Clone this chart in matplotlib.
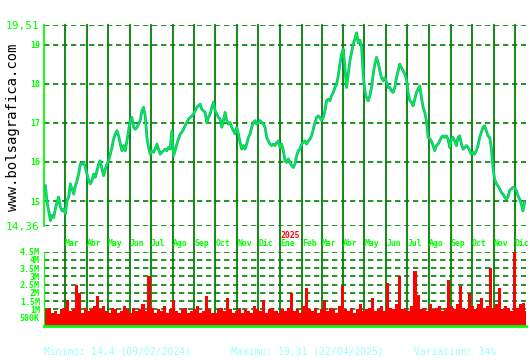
import matplotlib
matplotlib.use("Agg")
import matplotlib.pyplot as plt
import pandas as pd

# ---------------- data ----------------
close = [
    15.39, 14.97, 14.75, 14.50, 14.63, 14.58, 14.80, 14.97, 15.10, 14.84, 14.75, 14.80, 14.67,
    15.01, 15.10, 15.44, 15.31, 15.18, 15.39, 15.52, 15.69, 15.95, 15.95, 15.99, 15.86,
    15.69, 15.52, 15.44, 15.52, 15.69, 15.61, 15.78, 15.95, 16.03, 15.82, 15.65, 15.82, 15.95,
    16.03, 16.20, 16.37, 16.59, 16.72, 16.80, 16.67, 16.46, 16.29, 16.42, 16.29, 16.54, 16.80,
    17.06, 17.14, 16.89, 16.84, 16.89, 16.97, 17.06, 17.31, 17.40, 17.18, 16.63, 16.37,
    16.20, 16.29, 16.25, 16.33, 16.46, 16.33, 16.20, 16.25, 16.29, 16.33, 16.29, 16.37, 16.33, 16.80,
    16.16, 16.29, 16.46, 16.59, 16.72, 16.76, 16.84, 16.93, 17.01, 17.10, 17.14, 17.18, 17.23,
    17.31, 17.40, 17.44, 17.48, 17.35, 17.31, 17.27, 17.01, 17.14, 17.23, 17.40, 17.53,
    17.31, 17.23, 17.14, 17.10, 16.89, 17.06, 17.27, 17.06, 16.97, 17.01, 16.89, 16.80, 16.72, 16.89,
    16.72, 16.50, 16.33, 16.42, 16.33, 16.46, 16.63, 16.72, 16.89, 17.01, 17.06, 16.97, 17.01,
    17.06, 17.01, 16.97, 16.89, 16.63, 16.54, 16.46, 16.42, 16.46, 16.42, 16.50, 16.54,
    16.37, 16.46, 16.29, 16.03, 15.99, 16.08, 15.99, 15.91, 15.86, 15.95, 16.16, 16.29, 16.33,
    16.46, 16.50, 16.54, 16.46, 16.54, 16.59, 16.67, 16.84, 17.01, 17.14, 17.18, 17.14,
    17.06, 17.14, 17.31, 17.57, 17.61, 17.57, 17.70, 17.78, 17.91, 17.99, 18.21, 18.51,
    18.76, 18.89, 18.42, 17.91, 18.25, 18.59, 18.80, 19.02, 19.15, 19.31, 19.05, 19.12, 18.97, 18.25,
    17.82, 17.65, 17.57, 17.70, 17.91, 18.25, 18.51, 18.68, 18.55, 18.34, 18.16, 18.08,
    18.16, 18.04, 17.91, 17.91, 17.82, 17.78, 17.91, 18.16, 18.34, 18.51, 18.42, 18.34, 18.25,
    18.12, 17.78, 17.57, 17.53, 17.44, 17.61, 17.78, 17.87, 17.95, 17.65, 17.40, 17.27, 17.06,
    16.63, 16.59, 16.54, 16.42, 16.29, 16.42, 16.46, 16.54, 16.63, 16.67, 16.63, 16.67, 16.59,
    16.37, 16.59, 16.63, 16.54, 16.42, 16.63, 16.67, 16.46, 16.33, 16.37, 16.42, 16.37, 16.29,
    16.20, 16.25, 16.20, 16.29, 16.42, 16.63, 16.76, 16.89, 16.93, 16.80, 16.67, 16.63, 16.37, 15.86,
    15.56, 15.44, 15.39, 15.31, 15.22, 15.18, 15.10, 15.05, 15.10, 15.27, 15.31, 15.35,
    15.35, 15.27, 15.14, 15.05, 14.93, 14.75, 14.97,
]
price_start, price_end = "2024-02-02", "2025-12-15"

volume_m = [
    1.0, 1.1, 0.8, 0.9, 0.7, 1.0, 1.1, 1.6, 0.9, 1.0, 2.5, 2.0, 0.8, 1.1, 0.9, 1.0, 1.2, 1.8, 1.0, 1.2,
    0.9, 0.8, 1.1, 1.0, 0.8, 0.9, 1.2, 1.0, 0.8, 1.1, 0.9, 1.0, 1.3, 0.9, 3.0, 1.1, 0.8, 1.0, 0.9, 1.2,
    0.8, 1.0, 1.6, 0.9, 0.8, 1.0, 1.1, 0.8, 0.9, 1.0, 1.2, 0.8, 0.9, 1.8, 1.0, 0.8, 0.8, 1.0, 1.1, 0.9,
    1.7, 1.0, 0.8, 0.9, 1.1, 0.8, 1.0, 0.9, 0.8, 1.2, 1.0, 0.9, 1.6, 0.8, 1.0, 1.1, 0.9, 0.8, 1.0, 0.9,
    1.1, 2.0, 0.9, 1.0, 0.8, 1.2, 2.3, 1.0, 0.9, 1.1, 0.8, 1.0, 1.6, 0.9, 1.1, 1.0, 0.8, 1.2, 2.4, 1.0,
    0.9, 1.1, 0.8, 1.0, 1.3, 0.9, 1.0, 1.1, 1.7, 0.9, 1.0, 1.2, 0.9, 2.6, 1.1, 1.0, 1.3, 3.0, 1.0, 1.1,
    0.9, 1.2, 3.3, 1.9, 1.0, 1.1, 0.9, 1.3, 1.0, 1.1, 1.2, 0.9, 1.1, 2.8, 1.2, 1.0, 1.3, 2.4, 1.1, 1.0,
    2.0, 1.2, 1.0, 1.3, 1.7, 1.1, 1.2, 3.5, 1.1, 1.3, 2.3, 1.0, 1.2, 1.1, 0.9, 4.5, 1.1, 1.3, 1.4, 0.9,
]
vol_start, vol_end = "2024-02-01", "2025-12-16"

month_labels = ["Mar", "Abr", "May", "Jun", "Jul", "Ago", "Sep", "Oct", "Nov", "Dic",
                "Ene", "Feb", "Mar", "Abr", "May", "Jun", "Jul", "Ago", "Sep", "Oct", "Nov", "Dic"]
month_start, year_label = "2024-03-01", "2025"

price_ticks = [15, 16, 17, 18, 19]
price_min, price_max = 14.36, 19.51
vol_ticks = [0.5, 1, 1.5, 2, 2.5, 3, 3.5, 4, 4.5]
vol_tick_labels = ["500K", "1M", "1.5M", "2M", "2.5M", "3M", "3.5M", "4M", "4.5M"]

stats = ["Minimo: 14,4 (09/02/2024)", "Maximo: 19,31 (22/04/2025)", "Variación: 34%"]
watermark = "www.bolsagrafica.com"

# ---------------- style ----------------
LIME = "#00ff00"
DKGREEN = "#008000"
CYAN = "#10a8bc"
MONO = "DejaVu Sans Mono"

W, H = 530, 360
fig = plt.figure(figsize=(W / 100, H / 100), dpi=100, facecolor="white")

def frac(x0, y0, x1, y1):
    return [x0 / W, 1 - y1 / H, (x1 - x0) / W, (y1 - y0) / H]

ax = fig.add_axes(frac(44, 25, 526, 226))
axv = fig.add_axes(frac(44, 251.5, 526, 326))

pdates = pd.date_range(price_start, price_end, periods=len(close))
vdates = pd.date_range(vol_start, vol_end, periods=len(volume_m))
mdates_ = pd.date_range(month_start, periods=len(month_labels), freq="MS")
xl = (pd.Timestamp("2024-01-31"), pd.Timestamp("2025-12-17"))

for a in (ax, axv):
    a.set_facecolor("white")
    for s in a.spines.values():
        s.set_visible(False)
    a.set_xlim(*xl)
    a.set_xticks([])
    a.tick_params(axis="y", length=0, pad=3)

# price panel
ax.set_ylim(price_min, price_max)
for v in [price_min] + price_ticks + [price_max]:
    ax.axhline(v, color=DKGREEN, lw=1.2, dashes=(3.2, 2.2), zorder=1)
for d in mdates_:
    ax.axvline(d, ymin=-0.13, ymax=1, color=DKGREEN, lw=1.3, clip_on=False, zorder=1)
ax.plot(pdates, close, color=CYAN, lw=2.0, zorder=3)
ax.plot(pdates, close, color=LIME, lw=0.9, zorder=4)
ax.spines["left"].set_visible(True)
ax.spines["left"].set_color(LIME)
ax.spines["left"].set_linewidth(1.3)

ax.set_yticks([price_min] + price_ticks + [price_max])
labels = ["14,36"] + [str(t) for t in price_ticks] + ["19,51"]
ax.set_yticklabels(labels)
for i, t in enumerate(ax.get_yticklabels()):
    t.set_color(LIME)
    t.set_family(MONO)
    if i == 0 or i == len(labels) - 1:
        t.set_fontsize(8)
    else:
        t.set_fontsize(6)
        t.set_fontweight("bold")

trans = ax.get_xaxis_transform()
for d, lab in zip(mdates_, month_labels):
    ax.text(d, -0.085, lab, transform=trans, ha="left", va="center",
            color=LIME, fontsize=5.9, fontweight="bold", family=MONO)
ax.text(mdates_[month_labels.index("Ene")], -0.045, year_label, transform=trans,
        ha="left", va="center", color="red", fontsize=5.9, fontweight="bold", family=MONO)

# volume panel
axv.set_ylim(0, 4.5)
for v in vol_ticks:
    axv.axhline(v, color=DKGREEN, lw=1.2, dashes=(3.2, 2.2), zorder=1)
for d in mdates_:
    axv.axvline(d, color=DKGREEN, lw=1.3, zorder=1)
width = (vdates[1] - vdates[0]).days * 1.1
axv.bar(vdates, volume_m, width=width, color="#ff0000", align="edge", zorder=2,
        linewidth=0, antialiased=False)
axv.spines["left"].set_visible(True)
axv.spines["left"].set_color(LIME)
axv.spines["bottom"].set_visible(True)
axv.spines["bottom"].set_color(LIME)
axv.spines["bottom"].set_linewidth(2)
axv.set_yticks(vol_ticks)
axv.set_yticklabels(vol_tick_labels)
for t in axv.get_yticklabels():
    t.set_color(LIME)
    t.set_family(MONO)
    t.set_fontsize(6)
    t.set_fontweight("bold")

# watermark + stats
fig.text(13 / W, 1 - 127 / H, watermark, rotation=90, ha="center", va="center",
         color="black", fontsize=10, family=MONO)
for xpos, s in zip([44, 231, 414], stats):
    fig.text(xpos / W, 1 - 352 / H, s, ha="left", va="center", color="#99ffff",
             fontsize=7, family=MONO)

fig.savefig("out.png", dpi=100, facecolor="white")
